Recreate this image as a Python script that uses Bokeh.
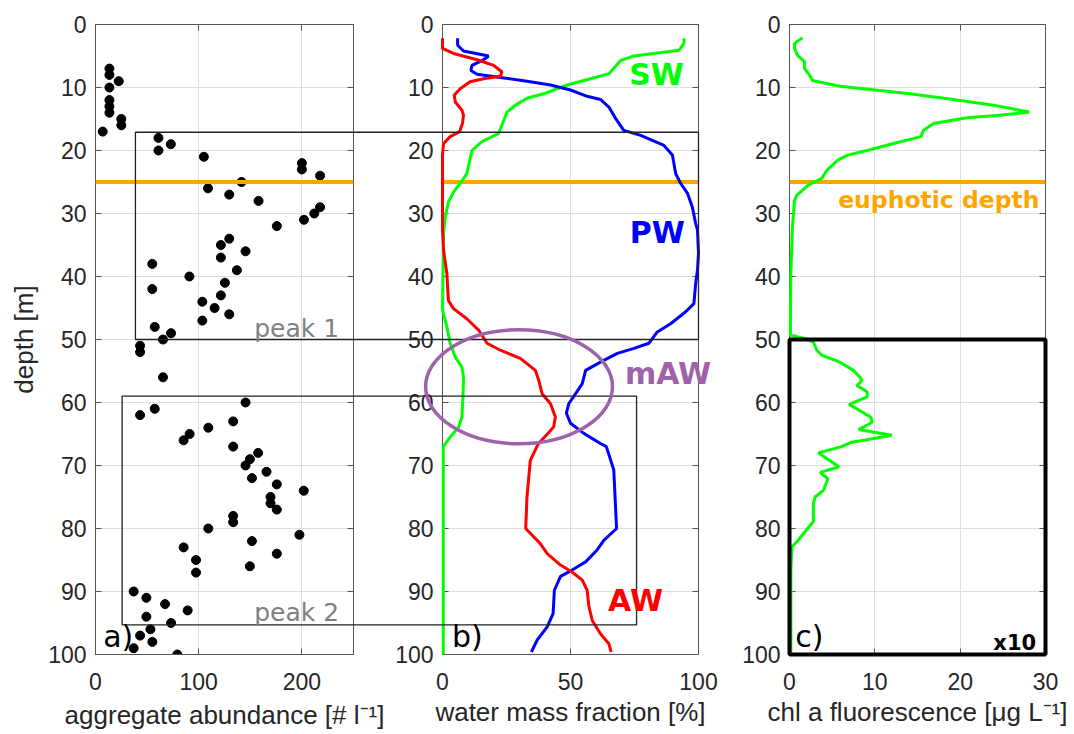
from bokeh.plotting import figure
from bokeh.models import Range1d, FixedTicker, LinearAxis, Span, CustomJSTickFormatter
from bokeh.layouts import row
from bokeh.embed import file_html
from bokeh.resources import INLINE
from bokeh.core.properties import value

# ---------------- data ----------------
depth_ticks = [0, 10, 20, 30, 40, 50, 60, 70, 80, 90, 100]
abund_ticks = [0, 100, 200]
frac_ticks = [0, 50, 100]
chl_ticks = [0, 10, 20, 30]

# a) aggregate abundance [# l-1] vs depth [m]
agg_depth = [7, 8, 9, 10, 12, 13, 14, 15, 16, 17, 18, 19, 20, 21, 22, 23, 24, 25, 26, 27,
             28, 29, 30, 31, 32, 34, 35, 36, 37, 38, 39, 40, 41, 42, 43, 44, 45, 46, 47, 48,
             49, 50, 51, 52, 56, 60, 61, 62, 63, 64, 65, 66, 67, 68, 69, 70, 71, 72, 73, 74,
             75, 76, 77, 78, 79, 80, 81, 82, 83, 84, 85, 86, 87, 90, 91, 92, 93, 94, 95, 96,
             97, 98, 99, 100]
agg_abund = [13.5, 13.5, 22.5, 13.5, 13.5, 13.5, 13.5, 25, 25, 7, 61, 73, 61, 105, 200, 200, 217.6, 141.5, 109, 129.6,
             158, 217.6, 212, 202, 175.7, 129.6, 121.5, 145.4, 121.5, 55, 137, 91, 125.4, 55, 121.5, 103.5, 115.4, 129.6, 103.5, 57.4,
             73.2, 65.4, 43.2, 43.2, 65.4, 145.4, 57.4, 43.2, 133.4, 109.3, 91.2, 85.4, 133.4, 157.6, 149.6, 145.4, 165.7, 151.6, 175.7, 201.8,
             169.6, 169.6, 175.7, 133.4, 133.4, 109.3, 197.6, 151.6, 85.4, 175.7, 97.4, 149.6, 97.4, 37, 49.3, 67.4, 89.3, 49.3, 73.2, 53.2,
             43.2, 55.1, 37, 79.3]

# b) water mass fractions [%]
sw_depth = [2.2, 3.0, 4.1, 4.6, 5.0, 5.7, 7.8, 8.6, 9.6, 11.0, 11.7, 12.8, 13.9, 16.0, 17.3, 18.6, 20.0,
            23.7, 25.2, 26.6, 28.2, 30.5, 33.2, 45.3, 48.0, 50.6, 52.8, 54.4, 55.9, 59.1, 62.3, 63.9,
            65.5, 67.0, 100]
sw_frac = [94.3, 94.3, 92.4, 82.6, 74.8, 69.6, 65, 57.8, 48.7, 39.5, 33, 28.5, 25.2, 23.2, 21.9, 15.4, 11.5,
           9.5, 6.9, 4.3, 2.3, 1.1, 0.4, 0, 1.7, 3, 5, 7.6, 8.2, 8, 7.6, 6.3,
           3, 0.3, 0.3]

pw_depth = [2.2, 3.3, 4.2, 5.0, 5.6, 6.5, 7.3, 7.9, 8.4, 9.0, 9.6, 10.4, 11.4, 11.9, 13.1, 14.9, 16.8,
            17.6, 19.2, 20.7, 23.7, 25.2, 26.8, 29.0, 31.6, 32.6, 36.3, 39.0, 41.1, 44.3, 45.6, 47.5,
            48.8, 50.6, 51.4, 52.2, 53.6, 54.9, 57.0, 58.6, 60.2, 61.7, 63.3, 64.9, 66.5, 67.0, 70.7,
            76.6, 80.0, 81.9, 83.4, 85.3, 86.6, 87.6, 89.8, 93.5, 95.6, 97.7, 99.6]
pw_frac = [5.9, 5.9, 8.2, 18, 16, 11.5, 11.1, 13.5, 22.6, 33, 42.2, 50, 56.5, 61.7, 65, 67.6, 70.8,
           77.4, 86.5, 89.8, 91.1, 93, 95.7, 97.6, 98.9, 99.6, 100, 99.6, 98.9, 98.2, 95, 89.1,
           83.9, 80.6, 74.8, 68.3, 61.7, 55.9, 54.6, 52, 49.3, 48.4, 50, 55.2, 61.7, 64, 66.9,
           67.6, 68, 63, 60.4, 55.9, 50.6, 46.1, 43.7, 43.2, 40.9, 37, 34.7]

aw_depth = [2.2, 3.8, 4.6, 5.6, 6.5, 7.5, 8.2, 8.6, 9.1, 10.2, 11.2, 12.3, 13.6, 14.4, 15.7, 17.0, 17.8,
            18.9, 20.6, 32.6, 35.8, 39.5, 43.8, 45.1, 46.7, 48.5, 50.6, 51.7, 53.0, 54.9, 56.5, 58.6,
            60.2, 62.3, 63.9, 65.0, 66.5, 69.2, 75.0, 80.0, 82.4, 84.0, 85.8, 86.9, 88.2, 89.8, 92.4,
            94.6, 96.7, 98.3, 99.6]
aw_frac = [0, 0, 4.3, 13.5, 20, 23.2, 22.6, 16, 10.8, 6.9, 4.6, 5, 7.6, 8.2, 7.8, 6.7, 3,
           0.4, 0, 0, 0.4, 1.7, 2.3, 4.3, 9.5, 14.1, 17.4, 22.6, 30.4, 36.3, 37.6, 38.9,
           42.2, 44.1, 43.4, 41.0, 37.5, 34.3, 33.0, 32.5, 38.2, 40.9, 46.1, 50.6, 54.6, 56.5, 57.2,
           58.5, 61.7, 65.0, 65.9]

# c) chl a fluorescence [ug L-1] (values below 50 m shown x10)
chl_depth = [2.1, 3.0, 3.8, 4.9, 5.9, 7.0, 8.0, 8.9, 9.8, 10.3, 11.0, 11.9, 12.8, 13.9, 14.4, 14.8,
             15.7, 16.8, 17.8, 18.9, 20.0, 20.7, 21.5, 23.1, 24.4, 25.5, 27.1, 27.9, 32.1, 39.5,
             49.3, 49.8, 50.4, 51.7, 52.5, 53.6, 54.9, 55.9, 56.5, 57.3, 58.3, 59.1, 60.3, 62.3,
             63.1, 63.6, 64.3, 65.2, 66.0, 66.3, 67.0, 68.0, 70.2, 71.1, 72.1, 73.9, 75.0, 76.0,
             78.9, 80.8, 82.1, 82.9, 86.6, 99.6]
chl_value = [1.52, 0.59, 0.59, 0.94, 1.76, 1.76, 2.34, 2.7, 5.9, 9.46, 14.1, 19.2, 23.9, 28.1, 24.7, 20.8,
             16.9, 15.7, 15.4, 12.2, 9.1, 6.9, 5.7, 4.4, 3.8, 2.2, 0.87, 0.59, 0.35, 0.16,
             0.1, 1.64, 2.8, 3.2, 3.8, 5.9, 7.5, 8.2, 8.5, 7.9, 9.1, 9.1, 7.0, 9.5,
             9.7, 9.1, 8.1, 12.0, 8.7, 7.3, 6.1, 3.4, 5.8, 3.6, 4.5, 4.0, 3.0, 2.8,
             2.8, 1.64, 0.87, 0.28, 0.16, 0.16]

euphotic_depth = 25
peak1_depth = [17.1, 50.0]
peak1_abund_left = 38.7
peak1_frac_right = 100
peak2_depth = [59.0, 95.3]
peak2_abund_left = 25.8
peak2_frac_right = 75.8
maw_center = [29.9, 57.5]
maw_size = [73.0, 18.1]
chl_x10_depth = [50, 100]

# ---------------- style ----------------
AX = "#555555"
TXT = "#262626"
GRID = "#dedede"
ORANGE = "#FFA500"
GREEN = "#00FF00"
BLUE = "#0000FF"
RED = "#FF0000"
PURPLE = "#9E62AB"
BOX = "#222222"
H = 732
TOP = 24
BOTTOM = 78


def make_panel(width, left, right, xr, xticks, xlabel, ylabel=None, xlabel_standoff=4):
    p = figure(width=width, height=H, x_range=Range1d(*xr), y_range=Range1d(100, 0),
               output_backend="svg", toolbar_location=None,
               min_border_left=left, min_border_right=right,
               min_border_top=TOP, min_border_bottom=BOTTOM)
    p.background_fill_color = "white"
    p.border_fill_color = "white"
    p.outline_line_color = AX
    p.outline_line_width = 1
    xt = FixedTicker(ticks=xticks)
    yt = FixedTicker(ticks=depth_ticks)
    p.xaxis.ticker = xt
    p.yaxis.ticker = yt
    p.xgrid.ticker = xt
    p.ygrid.ticker = yt
    for axis in (p.xaxis[0], p.yaxis[0]):
        axis.axis_line_color = AX
        axis.major_tick_line_color = AX
        axis.major_tick_in = 6
        axis.major_tick_out = 0
        axis.minor_tick_line_color = None
        axis.major_label_text_font = "Liberation Sans"
        axis.major_label_text_font_size = "23px"
        axis.major_label_text_color = TXT
        axis.axis_label_text_font = "Liberation Sans"
        axis.axis_label_text_font_size = "26px"
        axis.axis_label_text_font_style = "normal"
        axis.axis_label_text_color = TXT
    p.xaxis.major_label_standoff = 18
    p.yaxis.major_label_standoff = 9
    p.xaxis.axis_label = xlabel
    p.xaxis.axis_label_standoff = xlabel_standoff
    if ylabel:
        p.yaxis.axis_label = ylabel
        p.yaxis.axis_label_standoff = 6
    p.xgrid.grid_line_color = GRID
    p.ygrid.grid_line_color = GRID
    blank = CustomJSTickFormatter(code="return ''")
    ra = LinearAxis(ticker=yt, formatter=blank, major_tick_in=6, major_tick_out=0,
                    minor_tick_line_color=None, axis_line_color=AX,
                    major_tick_line_color=AX, major_label_standoff=0)
    p.add_layout(ra, "right")
    ta = LinearAxis(ticker=xt, formatter=blank, major_tick_in=6, major_tick_out=0,
                    minor_tick_line_color=None, axis_line_color=AX,
                    major_tick_line_color=AX, major_label_standoff=0)
    p.add_layout(ta, "above")
    return p


def txt(p, x, y, text, color, size, bold=False, align="center", baseline="middle",
        font="DejaVu Sans"):
    p.text(x=[x], y=[y], text=[text], text_color=color, text_font=value(font),
           text_font_size=value(size), text_font_style="bold" if bold else "normal",
           text_align=align, text_baseline=baseline, level="overlay")


# ---------------- panel a ----------------
pa = make_panel(391, 95, 38, (0, 250), abund_ticks, "aggregate abundance [# l\u207b\u00b9]",
                "depth [m]", xlabel_standoff=7)
pa.add_layout(Span(location=euphotic_depth, dimension="width", line_color=ORANGE, line_width=4))
pa.scatter(agg_abund, agg_depth, size=9, color="black")
far_a = 2 * 250
pa.multi_line(xs=[[far_a, peak1_abund_left, peak1_abund_left, far_a],
                  [far_a, peak2_abund_left, peak2_abund_left, far_a]],
              ys=[[peak1_depth[0], peak1_depth[0], peak1_depth[1], peak1_depth[1]],
                  [peak2_depth[0], peak2_depth[0], peak2_depth[1], peak2_depth[1]]],
              line_color=BOX, line_width=1.3, level="overlay")
txt(pa, 236, 48.3, "peak 1", "#808080", "25px", align="right", baseline="alphabetic")
txt(pa, 236, 93.4, "peak 2", "#808080", "25px", align="right", baseline="alphabetic")
txt(pa, 7.4, 97.2, "a)", "black", "30px", align="left", baseline="alphabetic")

# ---------------- panel b ----------------
pb = make_panel(337, 51, 30, (0, 100), frac_ticks, "water mass fraction [%]")
pb.add_layout(Span(location=euphotic_depth, dimension="width", line_color=ORANGE, line_width=4))
pb.line(sw_frac, sw_depth, line_color=GREEN, line_width=3, level="overlay")
pb.line(pw_frac, pw_depth, line_color=BLUE, line_width=3, level="overlay")
pb.line(aw_frac, aw_depth, line_color=RED, line_width=3, level="overlay")
far_b = -100
pb.multi_line(xs=[[far_b, peak1_frac_right, peak1_frac_right, far_b],
                  [far_b, peak2_frac_right, peak2_frac_right, far_b]],
              ys=[[peak1_depth[0], peak1_depth[0], peak1_depth[1], peak1_depth[1]],
                  [peak2_depth[0], peak2_depth[0], peak2_depth[1], peak2_depth[1]]],
              line_color=BOX, line_width=1.3, level="overlay")
pb.ellipse(x=[maw_center[0]], y=[maw_center[1]], width=[maw_size[0]], height=[maw_size[1]],
           fill_color=None, line_color=PURPLE, line_width=3.5, level="overlay")
txt(pb, 83.6, 7.9, "SW", GREEN, "30px", bold=True)
txt(pb, 83.9, 33.0, "PW", BLUE, "30px", bold=True)
txt(pb, 88.1, 55.4, "mAW", PURPLE, "30px", bold=True)
txt(pb, 75.4, 91.5, "AW", RED, "30px", bold=True)
txt(pb, 3.7, 97.2, "b)", "black", "30px", align="left", baseline="alphabetic")

# ---------------- panel c ----------------
pc = make_panel(344, 61, 27, (0, 30), chl_ticks, "chl a fluorescence [\u03bcg L\u207b\u00b9]")
pc.add_layout(Span(location=euphotic_depth, dimension="width", line_color=ORANGE, line_width=4))
pc.line(chl_value, chl_depth, line_color=GREEN, line_width=3, level="overlay")
pc.quad(left=[chl_ticks[0]], right=[chl_ticks[-1]], top=[chl_x10_depth[0]], bottom=[chl_x10_depth[1]],
        fill_color=None, line_color="black", line_width=4, level="overlay")
txt(pc, 17.5, 27.9, "euphotic depth", ORANGE, "23.5px", bold=True)
txt(pc, 28.9, 98.2, "x10", "black", "21px", bold=True, align="right", baseline="alphabetic")
txt(pc, 0.67, 97.2, "c)", "black", "30px", align="left", baseline="alphabetic")

layout = row(pa, pb, pc)
open("out.html", "w").write(file_html(layout, INLINE))
